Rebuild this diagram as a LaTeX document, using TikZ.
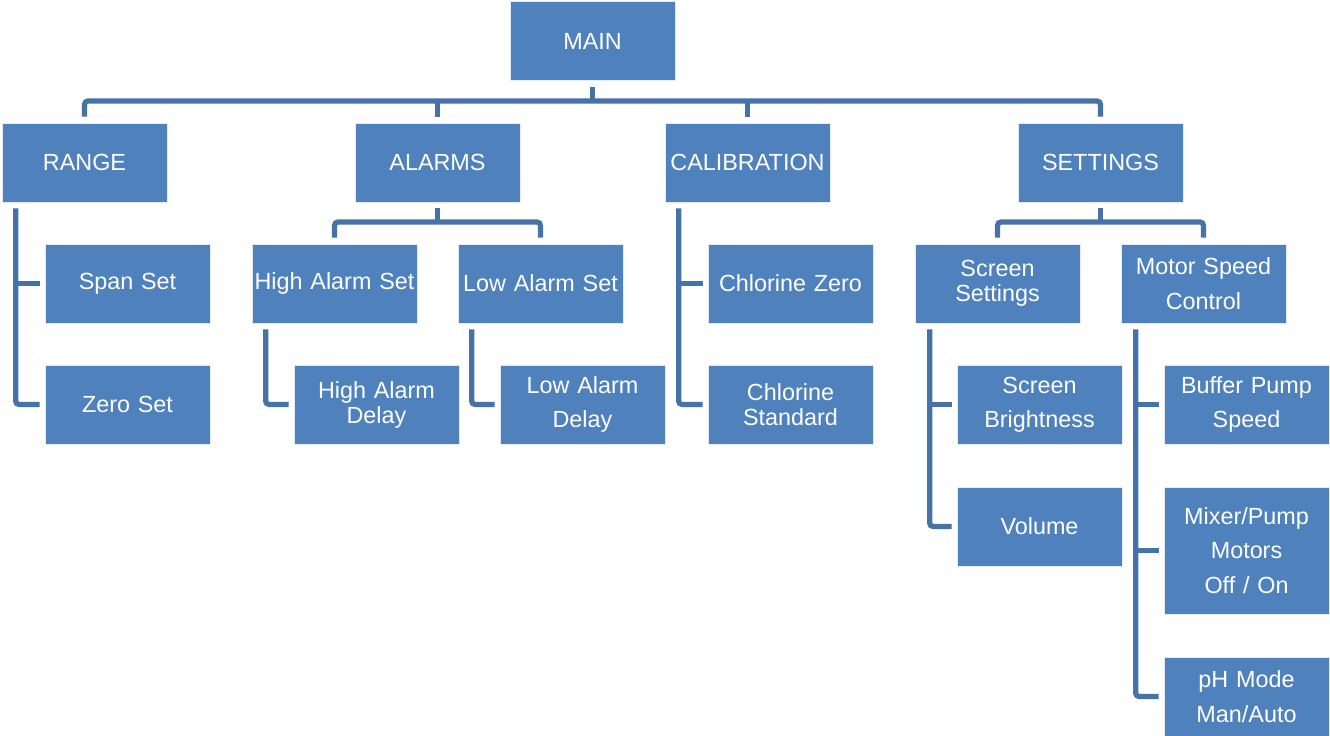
\documentclass[tikz,border=0pt]{standalone}
\usepackage{fontspec}
\setmainfont{Liberation Sans}
\usetikzlibrary{calc}

\definecolor{boxblue}{RGB}{79,129,189}
\definecolor{lineblue}{RGB}{69,114,167}

\begin{document}
\begin{tikzpicture}[
        box_style/.style={rectangle,draw=white!85!boxblue,line width=0.4pt,fill=boxblue,text=white,minimum width=3.3cm,minimum height=1.58cm,text width=3.28cm,align=center,inner sep=0pt,font=\fontsize{13.3pt}{14.2pt}\selectfont},
        loose_style/.style={box_style,font=\fontsize{13.3pt}{19.6pt}\selectfont},
        link_style/.style={draw=lineblue,line width=3pt,rounded corners=2pt}]

        \useasboundingbox (0,0) rectangle (26.6,14.72);

        \node [box_style](main) at (11.850,13.900) {MAIN};

        \node [box_style](range) at (1.690,11.470) {RANGE};
        \node [box_style](alarms) at (8.750,11.470) {ALARMS};
        \node [box_style](calibration) at (14.950,11.470) {CALIBRATION};
        \node [box_style](settings) at (22.010,11.470) {SETTINGS};

        \node [box_style](spanset) at (2.550,9.050) {Span Set};
        \node [box_style](zeroset) at (2.550,6.630) {Zero Set};

        \node [box_style](hiset) at (6.690,9.050) {High Alarm Set};
        \node [box_style](loset) at (10.810,9.050) {Low Alarm Set};
        \node [box_style](hidelay) at (7.530,6.630) {High Alarm\\Delay};
        \node [loose_style](lodelay) at (11.650,6.630) {Low Alarm\\Delay};

        \node [box_style](clzero) at (15.810,9.050) {Chlorine Zero};
        \node [box_style](clstd) at (15.810,6.630) {Chlorine\\Standard};

        \node [box_style](scrset) at (19.950,9.050) {Screen\\Settings};
        \node [loose_style](motor) at (24.070,9.050) {Motor Speed\\Control};
        \node [loose_style](scrbright) at (20.790,6.630) {Screen\\Brightness};
        \node [box_style](volume) at (20.790,4.190) {Volume};
        \node [loose_style](buffer) at (24.930,6.630) {Buffer Pump\\Speed};
        \node [loose_style,minimum height=2.54cm](mixer) at (24.930,3.710) {Mixer/Pump\\Motors\\Off / On};
        \node [loose_style](phmode) at (24.930,0.790) {pH Mode\\Man/Auto};

        % main level
        \coordinate (topbar) at (11.850,12.700);
        \draw [link_style] ([yshift=-0.12cm]main.south) -- (topbar);
        \draw [link_style] ([yshift=0.12cm]range.north) |- (topbar) -| ([yshift=0.12cm]settings.north);
        \draw [link_style] ([yshift=0.12cm]alarms.north) -- (alarms.north |- topbar);
        \draw [link_style] ([yshift=0.12cm]calibration.north) -- (calibration.north |- topbar);

        % alarms
        \coordinate (alarmbar) at (8.750,10.280);
        \draw [link_style] ([yshift=-0.12cm]alarms.south) -- (alarmbar);
        \draw [link_style] ([yshift=0.12cm]hiset.north) |- (alarmbar) -| ([yshift=0.12cm]loset.north);

        % settings
        \coordinate (settingsbar) at (22.010,10.280);
        \draw [link_style] ([yshift=-0.12cm]settings.south) -- (settingsbar);
        \draw [link_style] ([yshift=0.12cm]scrset.north) |- (settingsbar) -| ([yshift=0.12cm]motor.north);

        % side spines
        \coordinate (rangespine) at ([xshift=0.28cm,yshift=-0.12cm]range.south west);
        \draw [link_style] (rangespine) |- ([xshift=-0.1cm]zeroset.west);
        \draw [link_style] (rangespine |- spanset.west) -- ([xshift=-0.1cm]spanset.west);

        \coordinate (hispine) at ([xshift=0.28cm,yshift=-0.12cm]hiset.south west);
        \draw [link_style] (hispine) |- ([xshift=-0.1cm]hidelay.west);

        \coordinate (lospine) at ([xshift=0.28cm,yshift=-0.12cm]loset.south west);
        \draw [link_style] (lospine) |- ([xshift=-0.1cm]lodelay.west);

        \coordinate (calspine) at ([xshift=0.28cm,yshift=-0.12cm]calibration.south west);
        \draw [link_style] (calspine) |- ([xshift=-0.1cm]clstd.west);
        \draw [link_style] (calspine |- clzero.west) -- ([xshift=-0.1cm]clzero.west);

        \coordinate (scrspine) at ([xshift=0.3cm,yshift=-0.12cm]scrset.south west);
        \draw [link_style] (scrspine) |- ([xshift=-0.1cm]volume.west);
        \draw [link_style] (scrspine |- scrbright.west) -- ([xshift=-0.1cm]scrbright.west);

        \coordinate (motorspine) at ([xshift=0.3cm,yshift=-0.12cm]motor.south west);
        \draw [link_style] (motorspine) |- ([xshift=-0.1cm]phmode.west);
        \draw [link_style] (motorspine |- buffer.west) -- ([xshift=-0.1cm]buffer.west);
        \draw [link_style] (motorspine |- mixer.west) -- ([xshift=-0.1cm]mixer.west);

\end{tikzpicture}
\end{document}
